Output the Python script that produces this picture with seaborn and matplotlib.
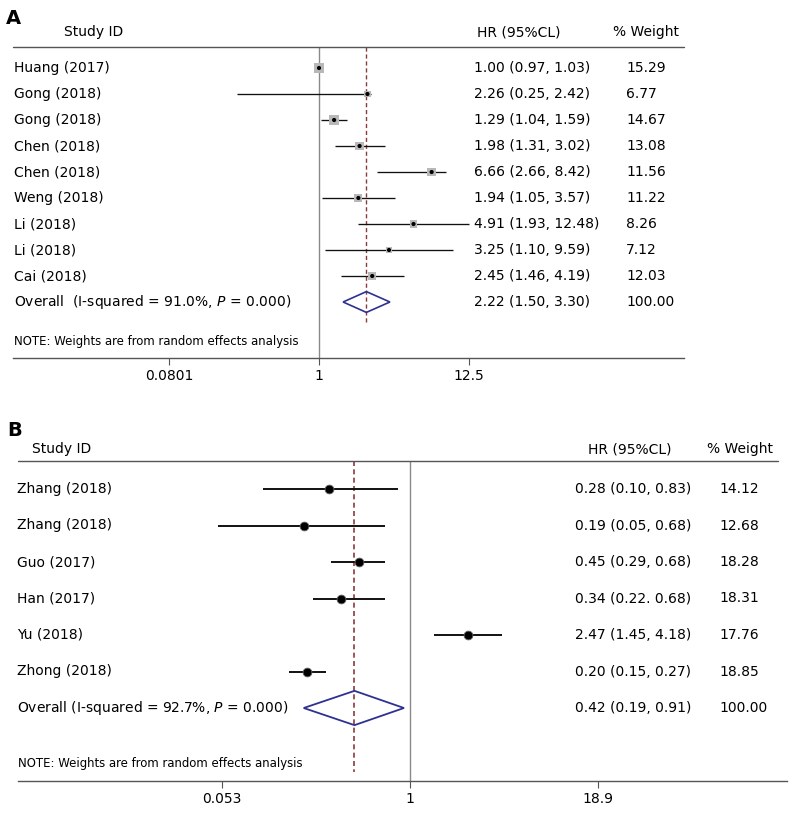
import numpy as np
import pandas as pd
import matplotlib
matplotlib.use("Agg")
import matplotlib.pyplot as plt
import seaborn as sns
from matplotlib.transforms import blended_transform_factory
from matplotlib.patches import Polygon
from matplotlib.ticker import NullLocator, FixedLocator, FixedFormatter

# ---------------- Panel A data ----------------
a_studies = ["Huang (2017)", "Gong (2018)", "Gong (2018)", "Chen (2018)", "Chen (2018)",
             "Weng (2018)", "Li (2018)", "Li (2018)", "Cai (2018)"]
a_hr = [1.00, 2.26, 1.29, 1.98, 6.66, 1.94, 4.91, 3.25, 2.45]
a_lo = [0.97, 0.25, 1.04, 1.31, 2.66, 1.05, 1.93, 1.10, 1.46]
a_hi = [1.03, 2.42, 1.59, 3.02, 8.42, 3.57, 12.48, 9.59, 4.19]
a_ci_labels = ["1.00 (0.97, 1.03)", "2.26 (0.25, 2.42)", "1.29 (1.04, 1.59)", "1.98 (1.31, 3.02)",
               "6.66 (2.66, 8.42)", "1.94 (1.05, 3.57)", "4.91 (1.93, 12.48)", "3.25 (1.10, 9.59)",
               "2.45 (1.46, 4.19)"]
a_weight = [15.29, 6.77, 14.67, 13.08, 11.56, 11.22, 8.26, 7.12, 12.03]
a_overall_hr, a_overall_lo, a_overall_hi = 2.22, 1.50, 3.30
a_overall_ci = "2.22 (1.50, 3.30)"
a_overall_weight = "100.00"
a_overall_label = "Overall  (I-squared = 91.0%, $\\mathit{P}$ = 0.000)"
a_ticks = [0.0801, 1, 12.5]
a_ticklabels = ["0.0801", "1", "12.5"]

# ---------------- Panel B data ----------------
b_studies = ["Zhang (2018)", "Zhang (2018)", "Guo (2017)", "Han (2017)", "Yu (2018)", "Zhong (2018)"]
b_hr = [0.28, 0.19, 0.45, 0.34, 2.47, 0.20]
b_lo = [0.10, 0.05, 0.29, 0.22, 1.45, 0.15]
b_hi = [0.83, 0.68, 0.68, 0.68, 4.18, 0.27]
b_ci_labels = ["0.28 (0.10, 0.83)", "0.19 (0.05, 0.68)", "0.45 (0.29, 0.68)", "0.34 (0.22. 0.68)",
               "2.47 (1.45, 4.18)", "0.20 (0.15, 0.27)"]
b_weight = [14.12, 12.68, 18.28, 18.31, 17.76, 18.85]
b_overall_hr, b_overall_lo, b_overall_hi = 0.42, 0.19, 0.91
b_overall_ci = "0.42 (0.19, 0.91)"
b_overall_weight = "100.00"
b_overall_label = "Overall (I-squared = 92.7%, $\\mathit{P}$ = 0.000)"
b_ticks = [0.053, 1, 18.9]
b_ticklabels = ["0.053", "1", "18.9"]

note = "NOTE: Weights are from random effects analysis"

sns.set_theme(style="white")
plt.rcParams["font.family"] = ["DejaVu Sans"]
plt.rcParams["mathtext.fontset"] = "dejavusans"
plt.rcParams["text.color"] = "black"
plt.rcParams["xtick.labelcolor"] = "black"

W, H = 792, 816
fig = plt.figure(figsize=(W / 100, H / 100), dpi=100)
fig.patch.set_facecolor("white")

FS = 10
NOTE_FS = 9.4
LINE_GREY = "#555555"
NULL_GREY = "#8a8a8a"
DASH_RED = "#8b3a3a"
NAVY = "#2e3192"


def setup_axes(ax, xlim, ylim, ticks, ticklabels, top_frac):
    ax.set_xscale("log")
    ax.set_xlim(*xlim)
    ax.set_ylim(*ylim)
    ax.set_yticks([])
    ax.xaxis.set_major_locator(FixedLocator(ticks))
    ax.xaxis.set_major_formatter(FixedFormatter(ticklabels))
    ax.xaxis.set_minor_locator(NullLocator())
    for s in ["left", "right", "top"]:
        ax.spines[s].set_visible(False)
    ax.spines["bottom"].set_color(LINE_GREY)
    ax.spines["bottom"].set_linewidth(1.0)
    ax.tick_params(axis="x", direction="out", length=5, width=0.8, color=LINE_GREY,
                   labelsize=FS, labelcolor="black", pad=3, bottom=True)
    ax.plot([0, top_frac], [1, 1], transform=ax.transAxes, color=LINE_GREY, lw=1.0,
            clip_on=False)
    ax.set_facecolor("white")


def px2row(py, row0, step):
    return (py - row0) / step


# ================= Panel A =================
a_row0, a_step = 68.0, 26.0
a_scale, a_one = 59.4, 319.0
a_left, a_right, a_top, a_bot = 13, 684, 47, 358
axA = fig.add_axes([a_left / W, 1 - a_bot / H, (a_right - a_left) / W, (a_bot - a_top) / H])
setup_axes(axA,
           (np.exp((a_left - a_one) / a_scale), np.exp((a_right - a_one) / a_scale)),
           (px2row(a_bot, a_row0, a_step), px2row(a_top, a_row0, a_step)),
           a_ticks, a_ticklabels, 1.0)

a_rows = np.arange(len(a_studies))
dfA = pd.DataFrame({"study": a_studies, "hr": a_hr, "lo": a_lo, "hi": a_hi,
                    "weight": a_weight, "row": a_rows})
axA.axvline(1, color=NULL_GREY, lw=1.0, zorder=1)
axA.vlines(a_overall_hr, px2row(a_top, a_row0, a_step), px2row(322, a_row0, a_step),
           colors=DASH_RED, linestyles=(0, (3, 2)), lw=1.0, zorder=1)
axA.hlines(dfA["row"], dfA["lo"], dfA["hi"], colors="#111111", lw=0.95, zorder=2)
wmin, wmax = min(a_weight), max(a_weight)
smax = 48
sns.scatterplot(data=dfA, x="hr", y="row", size="weight",
                sizes=(smax * wmin / wmax, smax), marker="s", color="#b8b8b8",
                edgecolor="none", legend=False, ax=axA, zorder=3)
sns.scatterplot(data=dfA, x="hr", y="row", s=9, color="black", edgecolor="none",
                legend=False, ax=axA, zorder=4)
r_ov = len(a_studies)
hA = 0.40
axA.add_patch(Polygon([(a_overall_lo, r_ov), (a_overall_hr, r_ov - hA),
                       (a_overall_hi, r_ov), (a_overall_hr, r_ov + hA)],
                      closed=True, fill=False, edgecolor=NAVY, lw=1.2, zorder=4))
axA.set_xlabel("")
axA.set_ylabel("")

trA = blended_transform_factory(fig.transFigure, axA.transData)
hdrA = px2row(32, a_row0, a_step)
axA.text(64 / W, hdrA, "Study ID", transform=trA, fontsize=FS, va="center", ha="left")
axA.text(477 / W, hdrA, "HR (95%CL)", transform=trA, fontsize=FS, va="center", ha="left")
axA.text(613 / W, hdrA, "% Weight", transform=trA, fontsize=FS, va="center", ha="left")
for i in range(len(a_studies)):
    axA.text(14 / W, i, a_studies[i], transform=trA, fontsize=FS, va="center", ha="left")
    axA.text(474 / W, i, a_ci_labels[i], transform=trA, fontsize=FS, va="center", ha="left")
    axA.text(626 / W, i, f"{a_weight[i]:.2f}", transform=trA, fontsize=FS, va="center", ha="left")
axA.text(14 / W, r_ov, a_overall_label, transform=trA, fontsize=FS, va="center", ha="left")
axA.text(474 / W, r_ov, a_overall_ci, transform=trA, fontsize=FS, va="center", ha="left")
axA.text(626 / W, r_ov, a_overall_weight, transform=trA, fontsize=FS, va="center", ha="left")
axA.text(14 / W, px2row(342, a_row0, a_step), note, transform=trA, fontsize=NOTE_FS,
         fontstretch="condensed", va="center", ha="left")
fig.text(6 / W, 1 - 19 / H, "A", fontsize=14, fontweight="bold", va="center", ha="left")

# ================= Panel B =================
b_row0, b_step = 489.0, 36.5
b_scale, b_one = 64.0, 410.0
b_left, b_right, b_top, b_bot = 18, 787, 461, 781
axB = fig.add_axes([b_left / W, 1 - b_bot / H, (b_right - b_left) / W, (b_bot - b_top) / H])
setup_axes(axB,
           (np.exp((b_left - b_one) / b_scale), np.exp((b_right - b_one) / b_scale)),
           (px2row(b_bot, b_row0, b_step), px2row(b_top, b_row0, b_step)),
           b_ticks, b_ticklabels, (778 - b_left) / (b_right - b_left))

b_rows = np.arange(len(b_studies))
dfB = pd.DataFrame({"study": b_studies, "hr": b_hr, "lo": b_lo, "hi": b_hi,
                    "weight": b_weight, "row": b_rows})
axB.axvline(1, color=NULL_GREY, lw=1.0, zorder=1)
axB.vlines(b_overall_hr, px2row(b_top, b_row0, b_step), px2row(772, b_row0, b_step),
           colors=DASH_RED, linestyles=(0, (3, 2)), lw=1.2, zorder=1)
axB.hlines(dfB["row"], dfB["lo"], dfB["hi"], colors="#111111", lw=1.4, zorder=2)
sns.scatterplot(data=dfB, x="hr", y="row", s=40, color="black", edgecolor="#666666",
                linewidth=0.6, legend=False, ax=axB, zorder=3)
rb_ov = len(b_studies)
hB = 0.47
axB.add_patch(Polygon([(b_overall_lo, rb_ov), (b_overall_hr, rb_ov - hB),
                       (b_overall_hi, rb_ov), (b_overall_hr, rb_ov + hB)],
                      closed=True, fill=False, edgecolor=NAVY, lw=1.3, zorder=4))
axB.set_xlabel("")
axB.set_ylabel("")

trB = blended_transform_factory(fig.transFigure, axB.transData)
hdrB = px2row(449, b_row0, b_step)
axB.text(32 / W, hdrB, "Study ID", transform=trB, fontsize=FS, va="center", ha="left")
axB.text(588 / W, hdrB, "HR (95%CL)", transform=trB, fontsize=FS, va="center", ha="left")
axB.text(707 / W, hdrB, "% Weight", transform=trB, fontsize=FS, va="center", ha="left")
for i in range(len(b_studies)):
    axB.text(17 / W, i, b_studies[i], transform=trB, fontsize=FS, va="center", ha="left")
    axB.text(575 / W, i, b_ci_labels[i], transform=trB, fontsize=FS, va="center", ha="left")
    axB.text(719 / W, i, f"{b_weight[i]:.2f}", transform=trB, fontsize=FS, va="center", ha="left")
axB.text(17 / W, rb_ov, b_overall_label, transform=trB, fontsize=FS, va="center", ha="left")
axB.text(575 / W, rb_ov, b_overall_ci, transform=trB, fontsize=FS, va="center", ha="left")
axB.text(719 / W, rb_ov, b_overall_weight, transform=trB, fontsize=FS, va="center", ha="left")
axB.text(18 / W, px2row(763, b_row0, b_step), note, transform=trB, fontsize=NOTE_FS,
         fontstretch="condensed", va="center", ha="left")
fig.text(7 / W, 1 - 430 / H, "B", fontsize=14, fontweight="bold", va="center", ha="left")

fig.savefig("out.png", dpi=100, facecolor="white")
